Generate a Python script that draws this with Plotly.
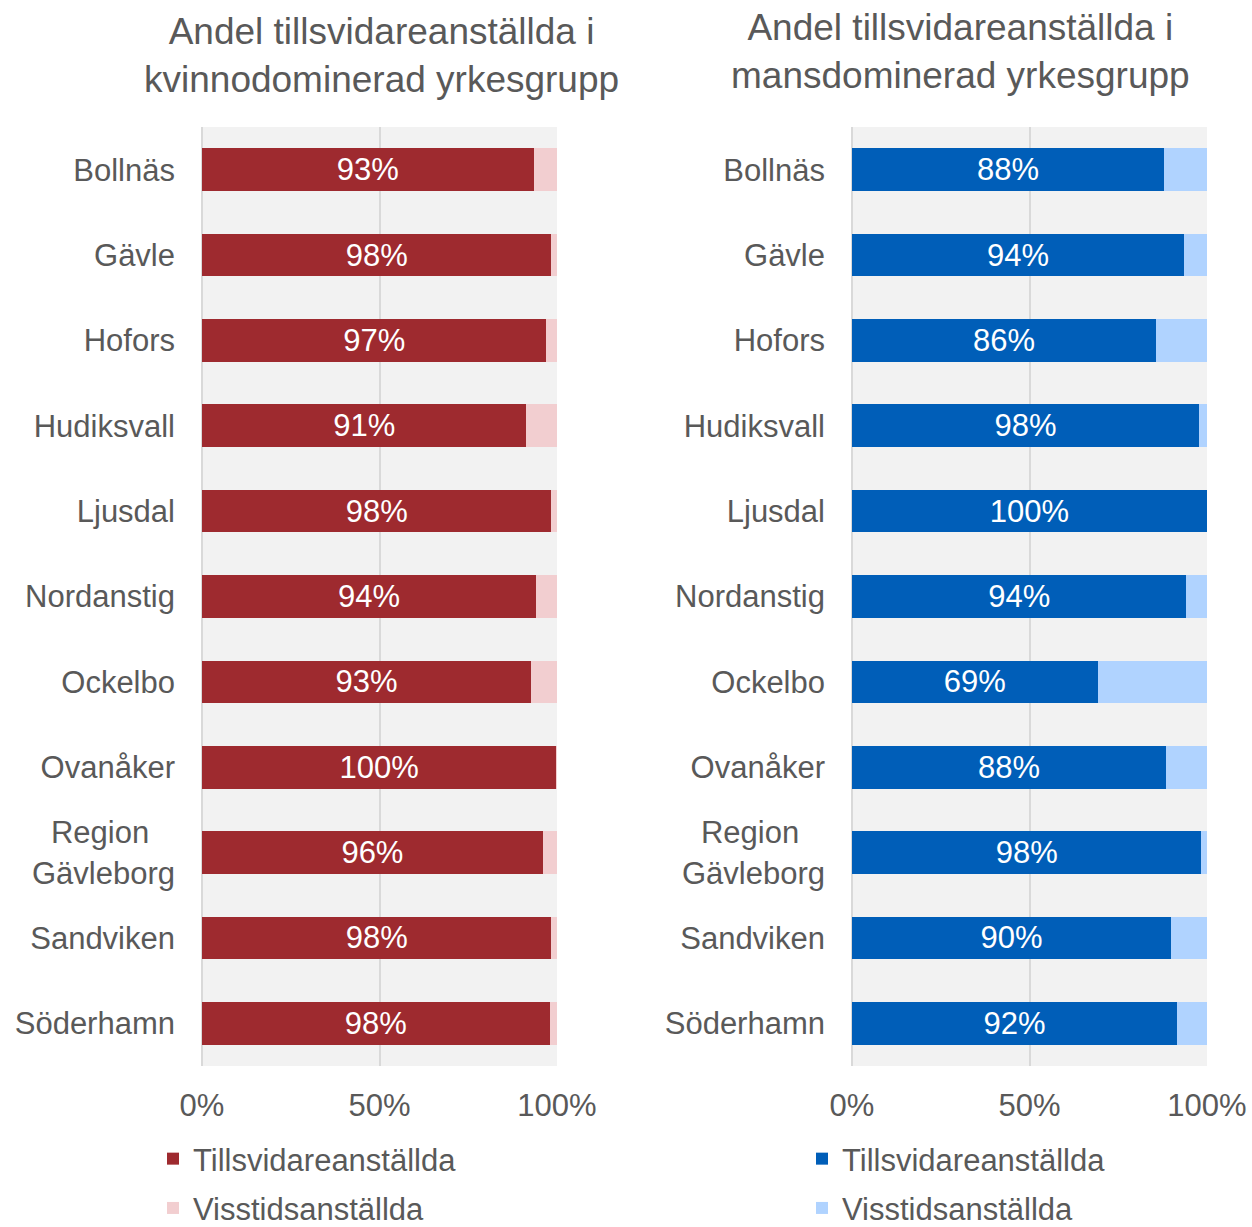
import plotly.graph_objects as go

# Kommuner (top to bottom)
kommuner = ["Bollnäs", "Gävle", "Hofors", "Hudiksvall", "Ljusdal", "Nordanstig",
            "Ockelbo", "Ovanåker", "Region<br>Gävleborg", "Sandviken", "Söderhamn"]

# Share of permanent employees (%), women-dominated occupational group
kvinno_tillsvidare = [93.4, 98.4, 97.0, 91.4, 98.4, 94.1, 92.7, 99.8, 96.0, 98.4, 97.9]
# Share of permanent employees (%), men-dominated occupational group
mans_tillsvidare = [87.9, 93.6, 85.7, 97.7, 100.0, 94.2, 69.2, 88.4, 98.4, 89.9, 91.6]

kvinno_visstid = [round(100 - v, 1) for v in kvinno_tillsvidare]
mans_visstid = [round(100 - v, 1) for v in mans_tillsvidare]

titel_kvinno = "Andel tillsvidareanställda i<br>kvinnodominerad yrkesgrupp"
titel_mans = "Andel tillsvidareanställda i<br>mansdominerad yrkesgrupp"
serie_tillsvidare = "Tillsvidareanställda"
serie_visstid = "Visstidsanställda"
x_ticks = [0, 50, 100]
x_ticktext = ["0%", "50%", "100%"]

# Tick text for the category axis; the two-line label is padded so its lines look centred
y_ticktext = [k if "<br>" not in k else "Region\u00a0\u00a0\u00a0<br>Gävleborg" for k in kommuner]

FONT = "Arial, 'Liberation Sans', sans-serif"
GREY = "#595959"
W, H = 1252, 1227

RED, PINK = "#9E2A2F", "#F2CED0"
BLUE, LIGHTBLUE = "#005EB8", "#B0D3FF"

fig = go.Figure()


def add_pair(tills, viss, col_dark, col_light, xa, ya, legend):
    fig.add_trace(go.Bar(
        y=kommuner, x=tills, orientation="h", name=serie_tillsvidare,
        marker=dict(color=col_dark, line=dict(width=0)),
        texttemplate="%{x:.0f}%", textposition="inside", insidetextanchor="middle",
        constraintext="none",
        insidetextfont=dict(color="white", size=31, family=FONT),
        xaxis=xa, yaxis=ya, legend=legend, legendgroup=legend + "a",
        hoverinfo="skip",
    ))
    fig.add_trace(go.Bar(
        y=kommuner, x=viss, orientation="h", name=serie_visstid,
        marker=dict(color=col_light, line=dict(width=0)),
        textposition="none",
        xaxis=xa, yaxis=ya, legend=legend, legendgroup=legend + "b",
        hoverinfo="skip",
    ))


add_pair(kvinno_tillsvidare, kvinno_visstid, RED, PINK, "x", "y", "legend")
add_pair(mans_tillsvidare, mans_visstid, BLUE, LIGHTBLUE, "x2", "y2", "legend2")

y_dom = [1 - 1066 / H, 1 - 127 / H]

xaxis_common = dict(
    range=[0, 100], tickmode="array", tickvals=x_ticks, ticktext=x_ticktext,
    showgrid=True, gridcolor="#D9D9D9", gridwidth=1.5,
    zeroline=True, zerolinecolor="#D9D9D9", zerolinewidth=1.5,
    showline=False, ticks="", ticklabelstandoff=18, automargin=False,
    tickfont=dict(size=31, color=GREY, family=FONT), fixedrange=True,
)
yaxis_common = dict(
    autorange="reversed", domain=y_dom, showgrid=False, zeroline=False,
    showline=False, ticks="", ticklabelstandoff=26, automargin=False,
    tickmode="array", tickvals=kommuner, ticktext=y_ticktext,
    tickfont=dict(size=31, color=GREY, family=FONT), fixedrange=True,
)

legend_common = dict(
    orientation="v", xanchor="left", yanchor="top", y=1 - 1132 / H,
    font=dict(size=31, color=GREY, family=FONT),
    traceorder="grouped", tracegroupgap=6, bgcolor="rgba(0,0,0,0)",
    itemclick=False, itemdoubleclick=False,
)

fig.update_layout(
    width=W, height=H,
    margin=dict(l=0, r=0, t=0, b=0, autoexpand=False),
    paper_bgcolor="white", plot_bgcolor="#F2F2F2",
    barmode="stack", bargap=0.5,
    font=dict(family=FONT, color=GREY),
    xaxis=dict(domain=[202 / W, 557 / W], anchor="y", **xaxis_common),
    yaxis=dict(anchor="x", **yaxis_common),
    xaxis2=dict(domain=[852 / W, 1207 / W], anchor="y2", **xaxis_common),
    yaxis2=dict(anchor="x2", **yaxis_common),
    legend=dict(x=153 / W, **legend_common),
    legend2=dict(x=802 / W, **legend_common),
    annotations=[
        dict(text=titel_kvinno, x=381 / W, y=1 - 55 / H, xref="paper", yref="paper",
             xanchor="center", yanchor="middle", showarrow=False,
             font=dict(size=37, color=GREY, family=FONT)),
        dict(text=titel_mans, x=960 / W, y=1 - 52 / H, xref="paper", yref="paper",
             xanchor="center", yanchor="middle", showarrow=False,
             font=dict(size=37, color=GREY, family=FONT)),
    ],
)

fig.write_html("out.html")
